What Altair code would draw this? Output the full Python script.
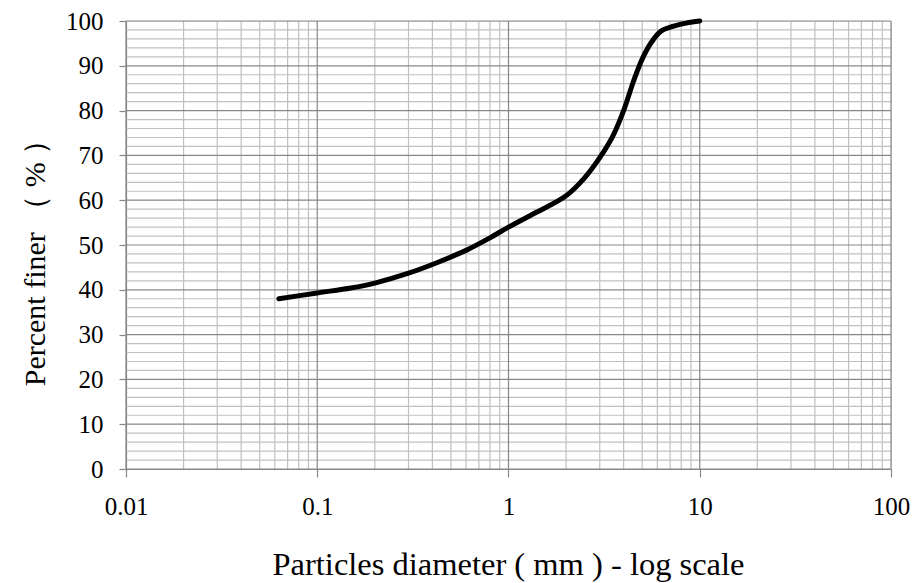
import altair as alt
import pandas as pd

# Curve values
diameter = [0.063, 0.1, 0.15, 0.2, 0.3, 0.425, 0.6, 0.8, 1.0, 1.4, 2.0, 2.5,
            3.0, 3.5, 4.0, 4.5, 5.0, 5.6, 6.3, 8.0, 10.0]
finer = [38.0, 39.3, 40.4, 41.5, 43.7, 46.1, 48.8, 51.6, 54.0, 57.3, 61.0, 65.0,
         69.5, 74.2, 80.0, 86.5, 91.5, 95.3, 97.8, 99.3, 100.0]

# Tick / grid values
x_major = [0.01, 0.1, 1, 10, 100]
x_minor = [k * 10.0 ** d for d in range(-2, 2) for k in range(2, 10)]
y_major = list(range(0, 101, 10))
y_minor = [v for v in range(2, 100, 2) if v % 10]

FONT = "Liberation Serif"
MINOR = "#c0c0c0"
MAJOR = "#878787"

xscale = alt.Scale(type="log", domain=[0.01, 100], nice=False)
yscale = alt.Scale(domain=[0, 100], nice=False)

xaxis = alt.Axis(
    values=x_major,
    format="~g",
    grid=False,
    title="Particles diameter ( mm ) - log scale",
    titleFont=FONT,
    titleFontSize=32.5,
    titleFontWeight="normal",
    titleColor="black",
    titleBaseline="alphabetic",
    titleY=105,
    titleX=382,
    labelFont=FONT,
    labelFontSize=25,
    labelColor="black",
    labelPadding=17,
    labelFlush=False,
    tickSize=8,
    tickColor=MAJOR,
    domainColor=MAJOR,
    tickWidth=1.2,
    domainWidth=1.2,
)

yaxis = alt.Axis(
    values=y_major,
    grid=False,
    title="Percent finer （ % ）",
    titleFont=FONT,
    titleFontSize=30,
    titleFontWeight="normal",
    titleColor="black",
    titleAngle=270,
    titleBaseline="alphabetic",
    titleAlign="center",
    titleX=-82,
    titleY=234,
    labelFont=FONT,
    labelFontSize=25,
    labelColor="black",
    labelPadding=16,
    labelFlush=False,
    tickSize=7,
    tickColor=MAJOR,
    domainColor=MAJOR,
    tickWidth=1.2,
    domainWidth=1.2,
)

vminor = alt.Chart(pd.DataFrame({"d": x_minor})).mark_rule(
    color=MINOR, strokeWidth=1.2
).encode(x=alt.X("d:Q", scale=xscale, axis=xaxis))

hminor = alt.Chart(pd.DataFrame({"p": y_minor})).mark_rule(
    color=MINOR, strokeWidth=1.2
).encode(y=alt.Y("p:Q", scale=yscale, axis=yaxis))

vmajor = alt.Chart(pd.DataFrame({"d": x_major})).mark_rule(
    color=MAJOR, strokeWidth=1.2
).encode(x=alt.X("d:Q", scale=xscale, axis=xaxis))

hmajor = alt.Chart(pd.DataFrame({"p": y_major})).mark_rule(
    color=MAJOR, strokeWidth=1.2
).encode(y=alt.Y("p:Q", scale=yscale, axis=yaxis))

curve = alt.Chart(pd.DataFrame({"d": diameter, "p": finer})).mark_line(
    color="black", strokeWidth=5, interpolate="catmull-rom", strokeCap="round"
).encode(
    x=alt.X("d:Q", scale=xscale, axis=xaxis),
    y=alt.Y("p:Q", scale=yscale, axis=yaxis),
)

chart = (
    alt.layer(vminor, hminor, vmajor, hmajor, curve)
    .properties(
        width=765,
        height=448,
        autosize=alt.AutoSizeParams(type="none"),
        padding={"left": 126, "top": 21, "right": 25, "bottom": 114},
    )
    .configure_view(stroke=None)
    .configure(background="white")
)

chart.save("out.html", embed_options={"renderer": "svg", "actions": False})
